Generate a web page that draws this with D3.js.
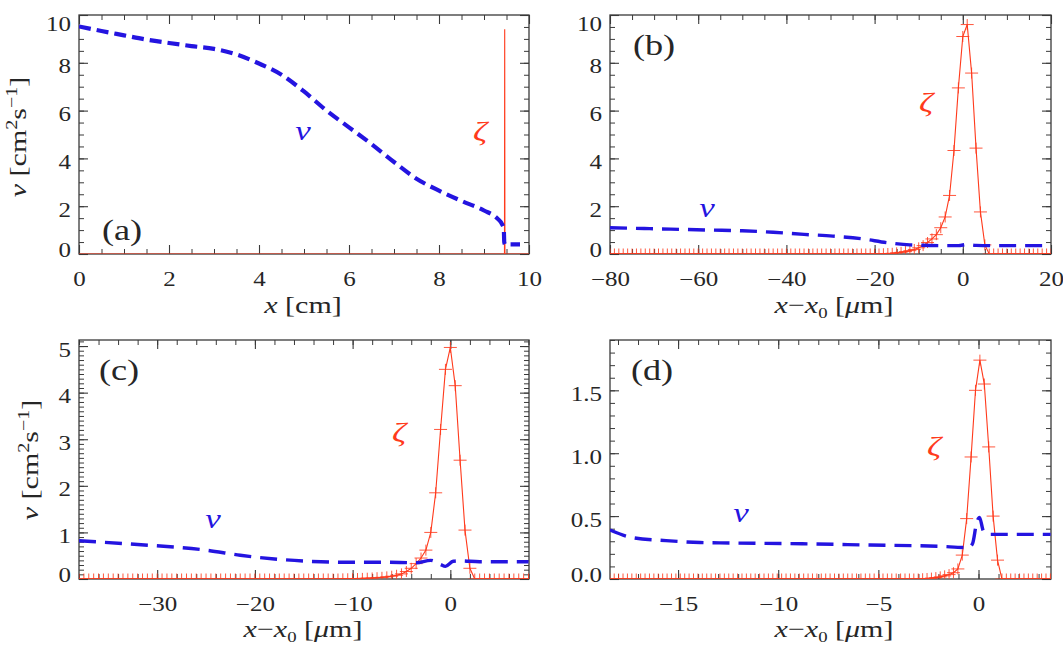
<!DOCTYPE html>
<html><head><meta charset="utf-8">
<script src="https://cdn.jsdelivr.net/npm/d3@7"></script>
<style>
body{margin:0;background:#fff;}
svg{display:block;}
</style></head><body>
<svg id="fig" width="1063" height="648"></svg>
<script>
// ---------------- data ----------------
// panel (a)
const aNuX = [0, 0.5, 1.0, 1.5, 2.0, 2.5, 3.0, 3.5, 4.0, 4.5, 5.0, 5.5, 6.0, 6.5, 7.0, 7.5, 8.0, 8.5, 9.0, 9.3, 9.4, 9.44, 9.45, 9.47, 9.8];
const aNuY = [9.52, 9.33, 9.15, 8.97, 8.83, 8.70, 8.58, 8.35, 7.97, 7.50, 6.80, 6.00, 5.30, 4.60, 3.85, 3.15, 2.65, 2.22, 1.82, 1.48, 1.25, 1.05, 0.50, 0.40, 0.40];
const aZetaX = [0, 9.455, 9.46, 9.465, 10];
const aZetaY = [0, 0, 9.4, 0, 0];

// panel (b)
const bNuX = [-80, -71, -64, -57, -50, -43, -36, -29.5, -23, -17, -12, -4, -1, 1, 3, 7, 20];
const bNuY = [1.10, 1.06, 1.03, 1.00, 0.97, 0.91, 0.82, 0.75, 0.64, 0.47, 0.38, 0.35, 0.35, 0.40, 0.36, 0.35, 0.35];
const bZetaX = [-80,-79,-78,-77,-76,-75,-74,-73,-72,-71,-70,-69,-68,-67,-66,-65,-64,-63,-62,-61,
  -60,-59,-58,-57,-56,-55,-54,-53,-52,-51,-50,-49,-48,-47,-46,-45,-44,-43,-42,-41,
  -40,-39,-38,-37,-36,-35,-34,-33,-32,-31,-30,-29,-28,-27,-26,-25,-24,-23,-22,-21,
  -20,-19,-18,-17,-16,-15,-14,-13,-12,-11,-10,-9,-8,-7,-6,-5,-4,-3,-2,-1,
  0,1,2,3,4,5,6,7,8,9,10,11,12,13,14,15,16,17,18,19,20];
const bZetaY = [0,0,0,0,0,0,0,0,0,0,0,0,0,0,0,0,0,0,0,0,
  0,0,0,0,0,0,0,0,0,0,0,0,0,0,0,0,0,0,0,0,
  0,0,0,0,0,0,0,0,0,0,0,0,0,0,0,0,0,0,0,0,
  0,0,0.01,0.02,0.03,0.05,0.07,0.10,0.14,0.19,0.26,0.35,0.48,0.63,0.81,1.10,1.55,2.45,4.33,6.95,
  9.10,9.60,7.57,4.43,1.76,0.38,0,0,0,0,0,0,0,0,0,0,0,0,0,0,0];

// panel (c)
const cNuX = [-38, -32, -25, -21.5, -18, -14.5, -11, -7, -3.5, -2, -1, -0.5, 0.3, 1, 3, 8];
const cNuY = [0.82, 0.74, 0.62, 0.51, 0.43, 0.38, 0.36, 0.36, 0.35, 0.40, 0.31, 0.27, 0.38, 0.39, 0.37, 0.37];
const cZetaX = [-38,-37.5,-37,-36.5,-36,-35.5,-35,-34.5,-34,-33.5,-33,-32.5,-32,-31.5,-31,-30.5,-30,-29.5,-29,-28.5,
  -28,-27.5,-27,-26.5,-26,-25.5,-25,-24.5,-24,-23.5,-23,-22.5,-22,-21.5,-21,-20.5,-20,-19.5,-19,-18.5,
  -18,-17.5,-17,-16.5,-16,-15.5,-15,-14.5,-14,-13.5,-13,-12.5,-12,-11.5,
  -11,-10.5,-10,-9.5,-9,-8.5,-8,-7.5,-7,-6.5,-6,-5.5,-5,-4.5,-4,-3.5,-3,-2.5,-2,-1.5,-1,-0.5,0,0.5,1,1.5,2,
  2.5,3,3.5,4,4.5,5,5.5,6,6.5,7,7.5,8];
const cZetaY = [0,0,0,0,0,0,0,0,0,0,0,0,0,0,0,0,0,0,0,0,
  0,0,0,0,0,0,0,0,0,0,0,0,0,0,0,0,0,0,0,0,
  0,0,0,0,0,0,0,0,0,0,0,0,0,0,
  0.003,0.005,0.007,0.010,0.013,0.017,0.022,0.028,0.036,0.046,0.060,0.080,0.110,0.160,0.230,0.330,0.450,0.620,1.00,1.85,3.21,4.50,4.97,4.15,2.55,1.05,0.23,
  0,0,0,0,0,0,0,0,0,0,0,0];

// panel (d)
const dNuX = [-18.4, -17.3, -15.6, -13.9, -12.2, -8.8, -5.4, -2.0, -0.5, -0.3, -0.1, 0.05, 0.25, 0.6, 3.6];
const dNuY = [0.39, 0.33, 0.305, 0.29, 0.286, 0.28, 0.27, 0.26, 0.25, 0.28, 0.44, 0.49, 0.38, 0.355, 0.355];
const dZetaX = [-18.41,-18.19,-17.97,-17.75,-17.53,-17.31,-17.09,-16.87,-16.65,-16.43,-16.21,-15.99,-15.77,-15.55,-15.33,-15.11,-14.89,-14.67,-14.45,-14.23,
  -14.01,-13.79,-13.57,-13.35,-13.13,-12.91,-12.69,-12.47,-12.25,-12.03,-11.81,-11.59,-11.37,-11.15,-10.93,-10.71,-10.49,-10.27,-10.05,-9.83,
  -9.61,-9.39,-9.17,-8.95,-8.73,-8.51,-8.29,-8.07,-7.85,-7.63,-7.41,-7.19,-6.97,-6.75,-6.53,-6.31,-6.09,-5.87,-5.65,-5.43,
  -5.21,-4.99,-4.77,-4.55,-4.33,-4.11,-3.89,-3.67,-3.45,-3.23,-3.01,
  -2.79,-2.57,-2.35,-2.13,-1.91,-1.69,-1.47,-1.25,-1.03,-0.81,-0.59,-0.37,-0.15,0.07,0.29,0.51,0.73,0.95,
  1.17,1.39,1.61,1.83,2.05,2.27,2.49,2.71,2.93,3.15,3.37,3.59];
const dZetaY = [0,0,0,0,0,0,0,0,0,0,0,0,0,0,0,0,0,0,0,0,
  0,0,0,0,0,0,0,0,0,0,0,0,0,0,0,0,0,0,0,0,
  0,0,0,0,0,0,0,0,0,0,0,0,0,0,0,0,0,0,0,0,
  0,0,0,0,0,0,0,0,0,0,0,
  0.002,0.004,0.007,0.011,0.017,0.025,0.035,0.05,0.08,0.19,0.48,0.97,1.50,1.74,1.55,1.05,0.50,0.15,
  0,0,0,0,0,0,0,0,0,0,0,0];

// tick values
const aXTicks = [0, 2, 4, 6, 8, 10];
const abYTicks = [0, 2, 4, 6, 8, 10];
const bXTicks = [-80, -60, -40, -20, 0, 20];
const cXTicks = [-30, -20, -10, 0];
const cYTicks = [0, 1, 2, 3, 4, 5];
const dXTicks = [-15, -10, -5, 0];
const dYTicks = [0, 0.5, 1.0, 1.5];
const panelLabels = ["(a)", "(b)", "(c)", "(d)"];

// ---------------- drawing ----------------
const FONT = '"Liberation Serif","Times New Roman",serif';
const SX = 1.25;
const BLUE = "#2414e0", RED = "#ff3a1c", INK = "#262626", FRAME = "#3a3a3a";
const svg = d3.select("#fig").attr("font-family", FONT);
svg.append("rect").attr("width", 1063).attr("height", 648).attr("fill", "#fff");

function minors(domain, step) {
  const lo = Math.ceil(domain[0] / step - 1e-9) * step;
  return d3.range(lo, domain[1] + 1e-9, step).map(v => +v.toFixed(6));
}

const panels = [
  {lab: panelLabels[0], left: 79, right: 529, top: 15, bottom: 254, xd: [0, 10], yd: [0, 10],
   xt: aXTicks, xm: 0.5, yt: abYTicks, ym: 0.5, xf: d3.format("d"), yf: d3.format("d"),
   nu: [aNuX, aNuY], zeta: [aZetaX, aZetaY], marks: false, nuW: 4.2, dash: "12,6",
   labPos: [122, 240], nuPos: [303, 140], zPos: [480, 140], xTitle: "cm", xtPos: [303, 313], ytPos: [26, 137]},
  {lab: panelLabels[1], left: 610, right: 1051, top: 15, bottom: 254, xd: [-80, 20], yd: [0, 10],
   xt: bXTicks, xm: 5, yt: abYTicks, ym: 0.5, xf: d3.format("d"), yf: d3.format("d"),
   nu: [bNuX, bNuY], zeta: [bZetaX, bZetaY], marks: true, nuW: 3.4, dash: "17,9",
   labPos: [654, 55], nuPos: [707, 217], zPos: [926, 111], xTitle: "um", xtPos: [834, 313], ytPos: null},
  {lab: panelLabels[2], left: 79, right: 529, top: 340, bottom: 579, xd: [-38, 8.05], yd: [0, 5.13],
   xt: cXTicks, xm: 2, yt: cYTicks, ym: 0.1, xf: d3.format("d"), yf: d3.format("d"),
   nu: [cNuX, cNuY], zeta: [cZetaX, cZetaY], marks: true, nuW: 3.4, dash: "17,9",
   labPos: [119, 380], nuPos: [213, 528], zPos: [399, 441], xTitle: "um", xtPos: [303, 637], ytPos: [38, 460]},
  {lab: panelLabels[3], left: 610, right: 1051, top: 340, bottom: 579, xd: [-18.4, 3.62], yd: [0, 1.9],
   xt: dXTicks, xm: 1, yt: dYTicks, ym: 0.1, xf: d3.format("d"), yf: d3.format(".1f"),
   nu: [dNuX, dNuY], zeta: [dZetaX, dZetaY], marks: true, nuW: 3.4, dash: "17,9",
   labPos: [652, 380], nuPos: [741, 522], zPos: [934, 455], xTitle: "um", xtPos: [834, 637], ytPos: null}
];

panels.forEach((p, i) => {
  const g = svg.append("g");
  const x = d3.scaleLinear().domain(p.xd).range([p.left, p.right]);
  const y = d3.scaleLinear().domain(p.yd).range([p.bottom, p.top]);
  const clipId = "clip" + i;
  svg.append("defs").append("clipPath").attr("id", clipId)
    .append("rect").attr("x", p.left).attr("y", p.top)
    .attr("width", p.right - p.left).attr("height", p.bottom - p.top);

  // ticks (inward, all four sides)
  const specs = [
    {fn: d3.axisBottom, sc: x, tr: `translate(0,${p.bottom})`, maj: p.xt, min: minors(p.xd, p.xm), lab: true, fmt: p.xf, dir: "x"},
    {fn: d3.axisTop, sc: x, tr: `translate(0,${p.top})`, maj: p.xt, min: minors(p.xd, p.xm), lab: false, dir: "x"},
    {fn: d3.axisLeft, sc: y, tr: `translate(${p.left},0)`, maj: p.yt, min: minors(p.yd, p.ym), lab: true, fmt: p.yf, dir: "y"},
    {fn: d3.axisRight, sc: y, tr: `translate(${p.right},0)`, maj: p.yt, min: minors(p.yd, p.ym), lab: false, dir: "y"}
  ];
  specs.forEach(s => {
    const gm = g.append("g").attr("transform", s.tr)
      .call(s.fn(s.sc).tickValues(s.min).tickSize(-5).tickSizeOuter(0).tickFormat(() => ""));
    gm.select(".domain").remove();
    gm.selectAll("text").remove();
    gm.selectAll("line").attr("stroke", FRAME).attr("stroke-width", 1);
    const ga = g.append("g").attr("transform", s.tr)
      .call(s.fn(s.sc).tickValues(s.maj).tickSize(-9).tickSizeOuter(0).tickFormat(s.lab ? s.fmt : () => ""));
    ga.select(".domain").remove();
    ga.selectAll("line").attr("stroke", FRAME).attr("stroke-width", 1.1);
    ga.attr("font-family", FONT).attr("font-size", 20);
    if (!s.lab) { ga.selectAll("text").remove(); return; }
    if (s.dir === "x") {
      ga.selectAll("text").attr("y", 0).attr("dy", null).attr("fill", INK)
        .attr("transform", `translate(0,32) scale(${SX},1)`);
    } else {
      ga.selectAll("text").attr("x", 0).attr("dy", null).attr("fill", INK)
        .attr("transform", d => {
          const ty = y(d);
          const b = Math.min(p.bottom + 2, Math.max(p.top + 15, ty + 10));
          return `translate(-8,${b - ty}) scale(${SX},1)`;
        });
    }
  });

  // frame
  g.append("rect").attr("x", p.left).attr("y", p.top)
    .attr("width", p.right - p.left).attr("height", p.bottom - p.top)
    .attr("fill", "none").attr("stroke", FRAME).attr("stroke-width", 1.3);

  const plot = g.append("g").attr("clip-path", `url(#${clipId})`);
  const line = d3.line().x(d => x(d[0])).y(d => y(d[1]));

  // zeta (solid red, crosses)
  const zData = d3.zip(p.zeta[0], p.zeta[1]);
  plot.append("path").datum(zData).attr("d", line)
    .attr("fill", "none").attr("stroke", RED).attr("stroke-width", 1.1);
  if (p.marks) {
    plot.selectAll("path.cross").data(zData).join("path").attr("class", "cross")
      .attr("transform", d => `translate(${x(d[0])},${y(d[1])})`)
      .attr("d", "M-6.5,0H6.5M0,-5.5V5.5")
      .attr("stroke", RED).attr("stroke-width", 1).attr("stroke-opacity", 0.85);
  }

  // nu (dashed blue)
  const nData = d3.zip(p.nu[0], p.nu[1]);
  plot.append("path").datum(nData).attr("d", line.curve(d3.curveMonotoneX))
    .attr("fill", "none").attr("stroke", BLUE).attr("stroke-width", p.nuW)
    .attr("stroke-dasharray", p.dash);

  // panel label
  g.append("text").attr("transform", `translate(${p.labPos[0]},${p.labPos[1]}) scale(${SX},1)`)
    .attr("text-anchor", "middle").attr("font-size", 29).attr("fill", INK).text(p.lab);
  // curve labels
  g.append("text").attr("transform", `translate(${p.nuPos[0]},${p.nuPos[1]}) scale(${SX},1)`)
    .attr("text-anchor", "middle").attr("font-size", 28).attr("font-style", "italic")
    .attr("fill", BLUE).text("ν");
  g.append("text").attr("transform", `translate(${p.zPos[0]},${p.zPos[1]}) scale(${SX},1)`)
    .attr("text-anchor", "middle").attr("font-size", 28).attr("font-style", "italic")
    .attr("fill", RED).text("ζ");

  // x title
  const xt = g.append("text").attr("transform", `translate(${p.xtPos[0]},${p.xtPos[1]}) scale(${SX},1)`)
    .attr("text-anchor", "middle").attr("font-size", 24).attr("fill", INK);
  if (p.xTitle === "cm") {
    xt.append("tspan").attr("font-style", "italic").text("x");
    xt.append("tspan").text(" [cm]");
  } else {
    xt.append("tspan").attr("font-style", "italic").text("x");
    xt.append("tspan").text("−");
    xt.append("tspan").attr("font-style", "italic").text("x");
    xt.append("tspan").attr("font-size", 15).attr("dy", 5).text("0");
    xt.append("tspan").attr("dy", -5).text(" [");
    xt.append("tspan").attr("font-style", "italic").text("μ");
    xt.append("tspan").text("m]");
  }

  // y title
  if (p.ytPos) {
    const yt = g.append("text")
      .attr("transform", `translate(${p.ytPos[0]},${p.ytPos[1]}) rotate(-90) scale(${SX},1)`)
      .attr("text-anchor", "middle").attr("font-size", 24).attr("fill", INK);
    yt.append("tspan").attr("font-style", "italic").text("ν");
    yt.append("tspan").text(" [cm");
    yt.append("tspan").attr("font-size", 16).attr("dy", -9).text("2");
    yt.append("tspan").attr("dy", 9).text("s");
    yt.append("tspan").attr("font-size", 16).attr("dy", -9).text("−1");
    yt.append("tspan").attr("dy", 9).text("]");
  }
});
</script>
</body></html>
